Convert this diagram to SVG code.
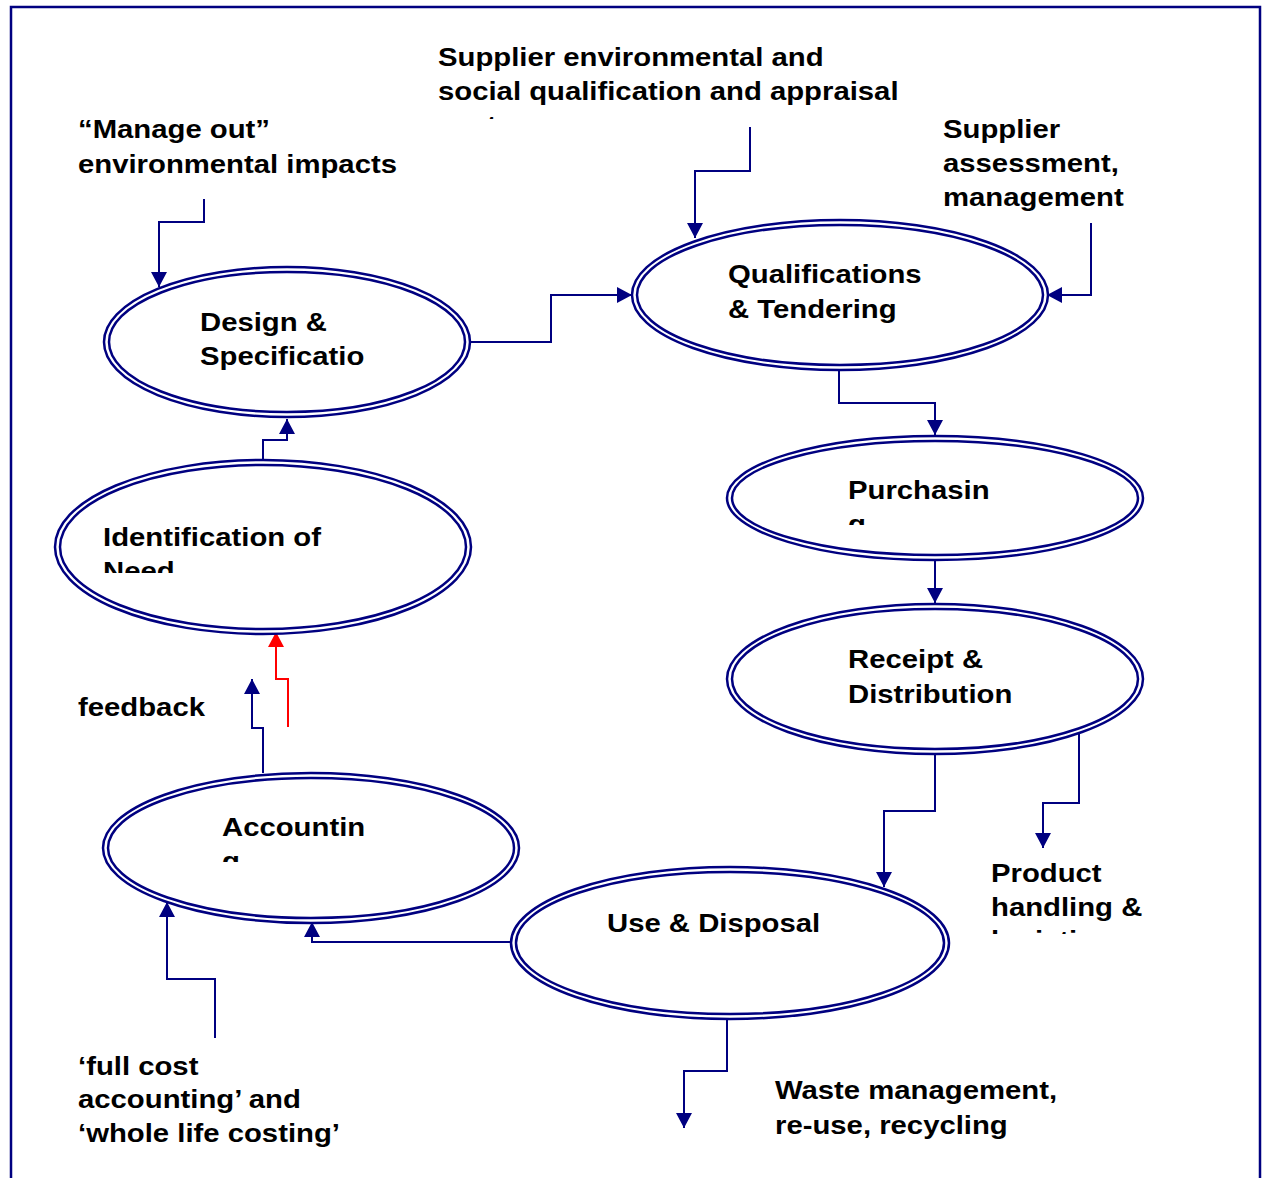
<svg xmlns="http://www.w3.org/2000/svg" width="1266" height="1178" viewBox="0 0 1266 1178">
<style>
.t{font-family:"Liberation Sans",Arial,sans-serif;font-weight:bold;font-size:25px;fill:#000}
.o{fill:#fff;stroke:#000080;stroke-width:2.5}
.i{fill:none;stroke:#000080;stroke-width:2.5}
.c{fill:none;stroke:#000080;stroke-width:2}
.r{fill:none;stroke:#ff0000;stroke-width:2}
.f{fill:none;stroke:#000080;stroke-width:2.5}
</style>
<defs>
<marker id="a" markerUnits="userSpaceOnUse" markerWidth="16" markerHeight="16" refX="15" refY="8" orient="auto" viewBox="0 0 16 16"><path d="M0,0 L15,8 L0,16 z" fill="#000080"/></marker>
<marker id="ar" markerUnits="userSpaceOnUse" markerWidth="16" markerHeight="16" refX="15" refY="8" orient="auto" viewBox="0 0 16 16"><path d="M0,0 L15,8 L0,16 z" fill="#ff0000"/></marker>
<clipPath id="cp1" clipPathUnits="userSpaceOnUse"><rect x="-100" y="0" width="2000" height="119"/></clipPath>
<clipPath id="cp2" clipPathUnits="userSpaceOnUse"><rect x="-100" y="0" width="2000" height="525"/></clipPath>
<clipPath id="cp3" clipPathUnits="userSpaceOnUse"><rect x="-100" y="0" width="2000" height="573"/></clipPath>
<clipPath id="cp4" clipPathUnits="userSpaceOnUse"><rect x="-100" y="0" width="2000" height="862"/></clipPath>
<clipPath id="cp5" clipPathUnits="userSpaceOnUse"><rect x="-100" y="0" width="2000" height="934"/></clipPath>
</defs>
<rect width="1266" height="1178" fill="#fff"/>
<path class="f" d="M11,1178 V7 H1260 V1178"/>

<g id="connectors">
<path class="c" d="M204,199 V222 H159 V287" marker-end="url(#a)"/>
<path class="c" d="M750,127 V171 H695 V238" marker-end="url(#a)"/>
<path class="c" d="M1091,223 V295 H1047" marker-end="url(#a)"/>
<path class="c" d="M470,342 H551 V295 H632" marker-end="url(#a)"/>
<path class="c" d="M839,370 V403 H935 V435" marker-end="url(#a)"/>
<path class="c" d="M935,560 V603" marker-end="url(#a)"/>
<path class="c" d="M935,754 V811 H884 V887" marker-end="url(#a)"/>
<path class="c" d="M1079,733 V803 H1043 V848" marker-end="url(#a)"/>
<path class="c" d="M727,1018 V1071 H684 V1128" marker-end="url(#a)"/>
<path class="c" d="M512,942 H312 V922" marker-end="url(#a)"/>
<path class="c" d="M215,1038 V979 H167 V902" marker-end="url(#a)"/>
<path class="c" d="M263,773 V728 H252 V679" marker-end="url(#a)"/>
<path class="r" d="M288,727 V679 H276 V632" marker-end="url(#ar)"/>
<path class="c" d="M263,460 V440 H287 V419" marker-end="url(#a)"/>
</g>

<g id="design">
<ellipse class="o" cx="287" cy="342" rx="183" ry="75"/>
<ellipse class="i" cx="287" cy="342" rx="178" ry="70"/>
<g transform="translate(200,0) scale(1.172,1)"><text class="t" y="331">Design &amp;</text><text class="t" y="365">Specificatio</text></g>
</g>

<g id="qualifications">
<ellipse class="o" cx="840" cy="295" rx="208" ry="75"/>
<ellipse class="i" cx="840" cy="295" rx="203" ry="70"/>
<g transform="translate(728,0) scale(1.172,1)"><text class="t" y="283">Qualifications</text><text class="t" y="318">&amp; Tendering</text></g>
</g>

<g id="purchasing">
<ellipse class="o" cx="935" cy="498" rx="208" ry="62"/>
<ellipse class="i" cx="935" cy="498" rx="203" ry="57"/>
<g transform="translate(848,0) scale(1.172,1)" clip-path="url(#cp2)"><text class="t" y="499">Purchasin</text><text class="t" y="533">g</text></g>
</g>

<g id="receipt">
<ellipse class="o" cx="935" cy="679" rx="208" ry="75"/>
<ellipse class="i" cx="935" cy="679" rx="203" ry="70"/>
<g transform="translate(848,0) scale(1.172,1)"><text class="t" y="668">Receipt &amp;</text><text class="t" y="703">Distribution</text></g>
</g>

<g id="identification">
<ellipse class="o" cx="263" cy="547" rx="208" ry="87"/>
<ellipse class="i" cx="263" cy="547" rx="203" ry="82"/>
<g transform="translate(103,0) scale(1.172,1)" clip-path="url(#cp3)"><text class="t" y="546">Identification of</text><text class="t" y="580">Need</text></g>
</g>

<g id="accounting">
<ellipse class="o" cx="311" cy="848" rx="208" ry="75"/>
<ellipse class="i" cx="311" cy="848" rx="203" ry="70"/>
<g transform="translate(222,0) scale(1.172,1)" clip-path="url(#cp4)"><text class="t" y="836">Accountin</text><text class="t" y="870">g</text></g>
</g>

<g id="use-disposal">
<ellipse class="o" cx="730" cy="943" rx="219" ry="76"/>
<ellipse class="i" cx="730" cy="943" rx="214" ry="71"/>
<g transform="translate(607,0) scale(1.172,1)"><text class="t" y="932">Use &amp; Disposal</text></g>
</g>

<g id="label-supplier-env" transform="translate(438,0) scale(1.172,1)" clip-path="url(#cp1)">
<text class="t" y="66">Supplier environmental and</text>
<text class="t" y="100">social qualification and appraisal</text>
<text class="t" y="134">systems</text>
</g>
<g id="label-manage-out" transform="translate(78,0) scale(1.172,1)">
<text class="t" y="138">“Manage out”</text>
<text class="t" y="173">environmental impacts</text>
</g>
<g id="label-supplier-assessment" transform="translate(943,0) scale(1.172,1)">
<text class="t" y="138">Supplier</text>
<text class="t" y="172">assessment,</text>
<text class="t" y="206">management</text>
</g>
<g id="label-feedback" transform="translate(78,0) scale(1.172,1)">
<text class="t" y="716">feedback</text>
</g>
<g id="label-product-handling" transform="translate(991,0) scale(1.172,1)" clip-path="url(#cp5)">
<text class="t" y="882">Product</text>
<text class="t" y="916">handling &amp;</text>
<text class="t" y="949">logistics</text>
</g>
<g id="label-full-cost" transform="translate(78,0) scale(1.172,1)">
<text class="t" y="1075">‘full cost</text>
<text class="t" y="1108">accounting’ and</text>
<text class="t" y="1142">‘whole life costing’</text>
</g>
<g id="label-waste" transform="translate(775,0) scale(1.172,1)">
<text class="t" y="1099">Waste management,</text>
<text class="t" y="1134">re-use, recycling</text>
</g>
</svg>
